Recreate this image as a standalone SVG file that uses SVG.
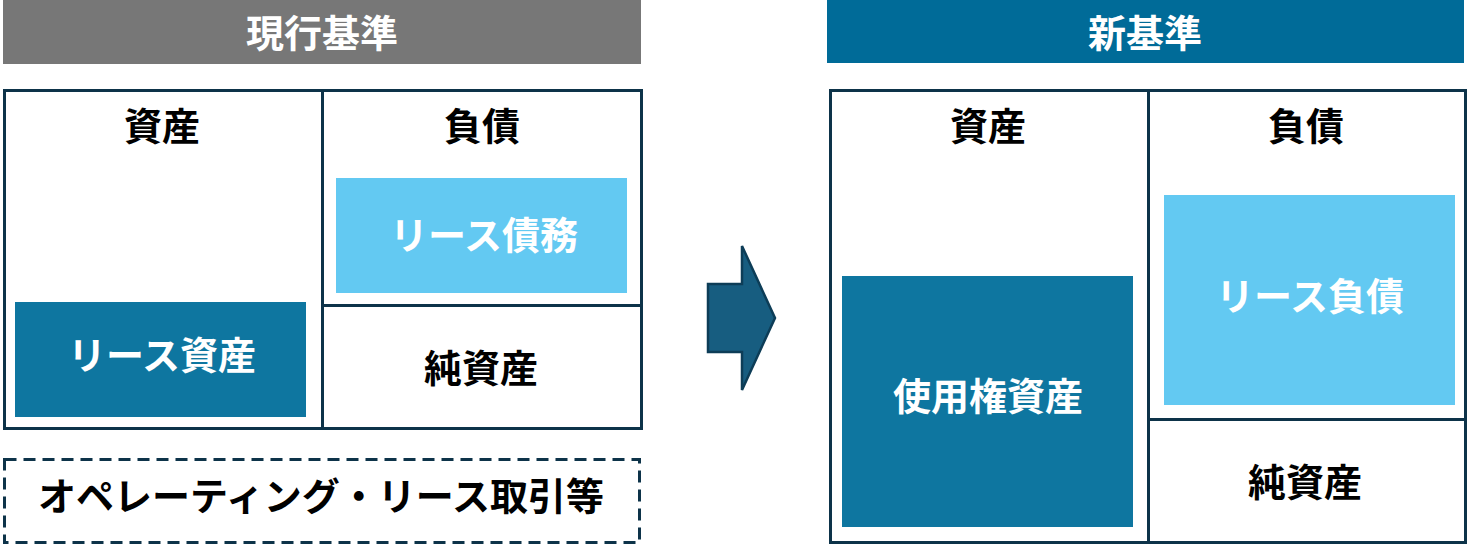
<svg xmlns="http://www.w3.org/2000/svg" width="1468" height="545" viewBox="0 0 1468 545">
<style>
.t{font-family:"Noto Sans CJK JP","Noto Sans CJK SC",sans-serif;font-weight:700;font-size:38px;text-anchor:middle;dominant-baseline:central}
.w{fill:#ffffff}
.k{fill:#000000}
.box{fill:#ffffff;stroke:#0d3349;stroke-width:3}
.ln{stroke:#0d3349;stroke-width:3;fill:none}
.dark{fill:#0e76a0}
.light{fill:#63c9f2}
</style>
<rect x="0" y="0" width="1468" height="545" fill="#ffffff"/>
<g id="header-current">
<rect x="3" y="0" width="638" height="64" fill="#777777"/>
<text class="t w" x="322" y="30">現行基準</text>
</g>
<g id="header-new">
<rect x="827" y="0" width="637" height="63" fill="#006b98"/>
<text class="t w" x="1145" y="30">新基準</text>
</g>
<g id="current-sheet">
<rect class="box" x="4.5" y="90.5" width="637" height="338"/>
<line class="ln" x1="322.5" y1="90" x2="322.5" y2="429"/>
<line class="ln" x1="322" y1="305.5" x2="642" y2="305.5"/>
<text class="t k" x="162" y="123">資産</text>
<text class="t k" x="482" y="123">負債</text>
<text class="t k" x="481" y="365">純資産</text>
</g>
<g id="lease-obligation">
<rect class="light" x="336" y="178" width="291" height="115"/>
<text class="t w" x="484" y="232">リース債務</text>
</g>
<g id="lease-asset">
<rect class="dark" x="15" y="302" width="291" height="115"/>
<text class="t w" x="162" y="352">リース資産</text>
</g>
<g id="operating-lease">
<rect x="4.5" y="459.5" width="635" height="83" fill="none" stroke="#0d3349" stroke-width="3" stroke-dasharray="12,7"/>
<text class="t k" x="321" y="493">オペレーティング・リース取引等</text>
</g>
<g id="connectors">
<polygon points="708,284 742,284 742,246 775,318 742,390 742,352 708,352" fill="#175d80" stroke="#0d3d57" stroke-width="2.5" stroke-linejoin="miter"/>
</g>
<g id="new-sheet">
<rect class="box" x="830.5" y="90.5" width="635" height="452"/>
<line class="ln" x1="1148.5" y1="90" x2="1148.5" y2="543"/>
<line class="ln" x1="1148" y1="419.5" x2="1466" y2="419.5"/>
<text class="t k" x="988" y="123">資産</text>
<text class="t k" x="1306" y="123">負債</text>
<text class="t k" x="1305" y="479">純資産</text>
</g>
<g id="right-of-use-asset">
<rect class="dark" x="842" y="276" width="291" height="251"/>
<text class="t w" x="988" y="393">使用権資産</text>
</g>
<g id="lease-liability">
<rect class="light" x="1164" y="195" width="291" height="210"/>
<text class="t w" x="1310" y="293">リース負債</text>
</g>
</svg>
